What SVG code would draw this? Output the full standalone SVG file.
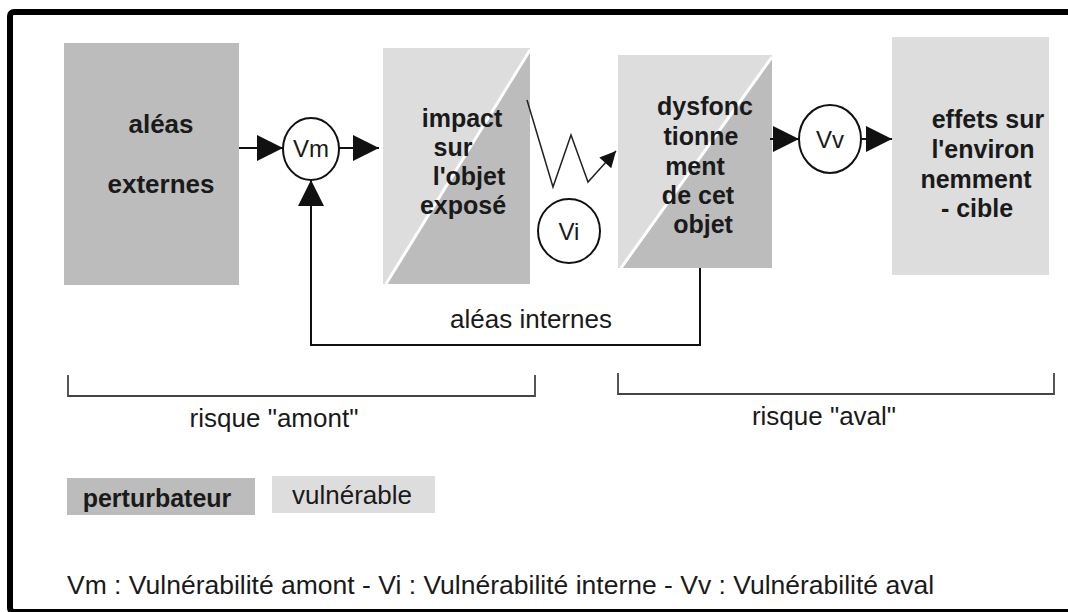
<svg xmlns="http://www.w3.org/2000/svg" width="1068" height="612" viewBox="0 0 1068 612">
<defs>
<marker id="ah" viewBox="0 0 10 10" refX="10" refY="5" markerWidth="27" markerHeight="26" orient="auto" markerUnits="userSpaceOnUse">
<path d="M0,0 L10,5 L0,10 Z" fill="#111"/>
</marker>
<marker id="ahs" viewBox="0 0 10 10" refX="10" refY="5" markerWidth="20" markerHeight="16" orient="auto" markerUnits="userSpaceOnUse">
<path d="M0,0 L10,5 L0,10 Z" fill="#111"/>
</marker>
</defs>
<style>
.bt{font-family:"Liberation Sans",Arial,sans-serif;font-weight:bold;font-size:25px;fill:#1a1a1a;text-anchor:middle}
.rt{font-family:"Liberation Sans",Arial,sans-serif;font-size:26px;fill:#1a1a1a}
.ct{font-family:"Liberation Sans",Arial,sans-serif;font-size:24px;fill:#1a1a1a;text-anchor:middle}
.dark{fill:#bcbcbc}
.light{fill:#dddddd}
.circ{fill:#fff;stroke:#111;stroke-width:2}
.ln{fill:none;stroke:#111;stroke-width:2}
.br{fill:none;stroke:#444;stroke-width:1.8}
.gap{stroke:#fff;stroke-width:3}
</style>
<rect width="1068" height="612" fill="#fff"/>
<rect x="10" y="12" width="1070" height="600" rx="4" fill="none" stroke="#000" stroke-width="6"/>

<g id="node-aleas-externes">
<rect class="dark" x="64" y="43" width="175" height="242"/>
<text class="bt" x="161" y="133" style="font-size:26px">aléas</text>
<text class="bt" x="161" y="193" style="font-size:26px">externes</text>
</g>

<g id="node-vm">
<ellipse class="circ" cx="311" cy="149" rx="28" ry="31"/>
<text class="ct" x="311" y="157">Vm</text>
</g>

<g id="node-impact">
<rect class="light" x="383" y="48" width="147" height="236"/>
<polygon class="dark" points="386,284 530,284 530,50"/>
<line class="gap" x1="386" y1="284" x2="530" y2="50"/>
<text class="bt" x="462" y="127">impact</text>
<text class="bt" x="453" y="156">sur</text>
<text class="bt" x="469" y="185">l'objet</text>
<text class="bt" x="463" y="214">exposé</text>
</g>

<g id="node-vi">
<ellipse class="circ" cx="569" cy="231" rx="31" ry="32"/>
<text class="ct" x="569" y="240">Vi</text>
</g>

<g id="node-dysfonctionnement">
<rect class="light" x="618" y="55" width="154" height="213"/>
<polygon class="dark" points="621,268 772,268 772,57"/>
<line class="gap" x1="621" y1="268" x2="772" y2="57"/>
<text class="bt" x="705" y="115">dysfonc</text>
<text class="bt" x="701" y="145">tionne</text>
<text class="bt" x="695" y="175">ment</text>
<text class="bt" x="698" y="204">de cet</text>
<text class="bt" x="703" y="233">objet</text>
</g>

<g id="node-vv">
<ellipse class="circ" cx="830" cy="139" rx="31" ry="34"/>
<text class="ct" x="830" y="148">Vv</text>
</g>

<g id="node-effets">
<rect class="light" x="892" y="37" width="157" height="238"/>
<text class="bt" x="988" y="128">effets sur</text>
<text class="bt" x="983" y="158">l'environ</text>
<text class="bt" x="976" y="188">nemment</text>
<text class="bt" x="977" y="217">- cible</text>
</g>

<g id="connectors">
<line class="ln" x1="239" y1="148" x2="283" y2="148" marker-end="url(#ah)"/>
<line class="ln" x1="339" y1="148" x2="379" y2="148" marker-end="url(#ah)"/>
<path class="ln" d="M700,268 V345 H311 V180" marker-end="url(#ah)"/>
<polyline fill="none" stroke="#222" stroke-width="1.5" points="527,100 553,187 571,135 588,182 616,151" marker-end="url(#ahs)"/>
<line class="ln" x1="770" y1="139" x2="799" y2="139" marker-end="url(#ah)"/>
<line class="ln" x1="861" y1="139" x2="892" y2="139" marker-end="url(#ah)"/>
<text class="rt" x="531" y="328" text-anchor="middle">aléas internes</text>
</g>

<g id="brackets">
<path class="br" d="M68,375 V396 H535 V375"/>
<path class="br" d="M618,373 V394 H1054 V373"/>
<text class="rt" x="274" y="427" text-anchor="middle">risque "amont"</text>
<text class="rt" x="824" y="425" text-anchor="middle">risque "aval"</text>
</g>

<g id="legend">
<rect class="dark" x="67" y="478" width="188" height="37"/>
<text class="bt" x="157" y="507">perturbateur</text>
<rect class="light" x="272" y="476" width="163" height="37"/>
<text class="rt" x="292" y="504">vulnérable</text>
<text class="rt" x="67" y="594" style="font-size:26.5px">Vm : Vulnérabilité amont - Vi : Vulnérabilité interne - Vv : Vulnérabilité aval</text>
</g>
</svg>
